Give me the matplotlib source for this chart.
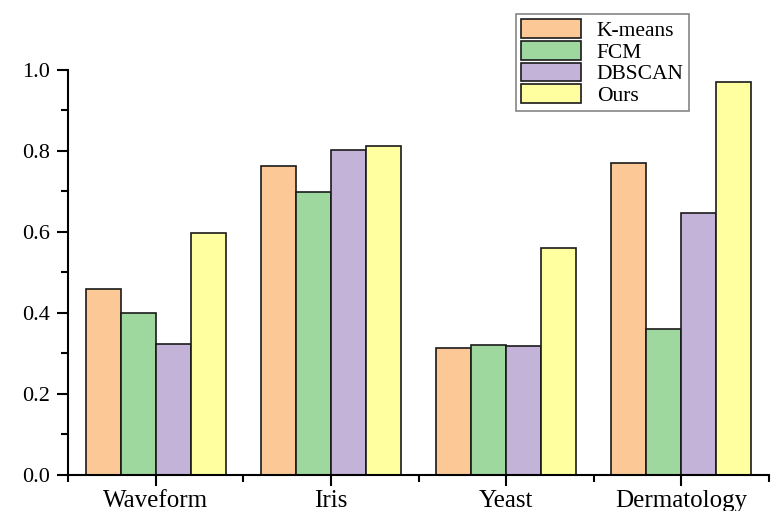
import numpy as np
import matplotlib
matplotlib.use("Agg")
import matplotlib.pyplot as plt
from matplotlib.ticker import FixedLocator

plt.rcParams['font.family'] = ['Liberation Serif', 'DejaVu Serif']

datasets = ['Waveform', 'Iris', 'Yeast', 'Dermatology']
methods = ['K-means', 'FCM', 'DBSCAN', 'Ours']
kmeans = [0.459, 0.763, 0.314, 0.770]
fcm = [0.400, 0.699, 0.321, 0.360]
dbscan = [0.323, 0.802, 0.319, 0.647]
ours = [0.598, 0.812, 0.560, 0.970]
cores = ['#FBC896', '#9ED89E', '#C3B3D8', '#FFFF9F']

fig = plt.figure(figsize=(7.71, 5.11), dpi=100)
ax = fig.add_axes([68/771, 36/511, 701/771, 466/511])

x = np.arange(len(datasets))
largura = 0.2
series = [kmeans, fcm, dbscan, ours]
for i, valores in enumerate(series):
    ax.bar(x + (i - 1.5) * largura, valores, largura, color=cores[i],
           edgecolor='#1a1a1a', linewidth=1.2, label=methods[i])

ax.set_xlim(-0.5, 3.5)
ax.set_ylim(0, 1.15)
ax.spines['top'].set_visible(False)
ax.spines['right'].set_visible(False)
ax.spines['left'].set_bounds(0, 1.0)
ax.spines['left'].set_linewidth(1.5)
ax.spines['bottom'].set_linewidth(1.5)

ax.set_yticks([0, 0.2, 0.4, 0.6, 0.8, 1.0])
ax.set_yticklabels(['0.0', '0.2', '0.4', '0.6', '0.8', '1.0'])
ax.yaxis.set_minor_locator(FixedLocator([0.1, 0.3, 0.5, 0.7, 0.9]))
ax.set_xticks(x)
ax.set_xticklabels(datasets)
ax.xaxis.set_minor_locator(FixedLocator([-0.5, 0.5, 1.5, 2.5, 3.5]))

ax.tick_params(axis='both', which='major', length=8, width=1.5)
ax.tick_params(axis='both', which='minor', length=5, width=1.5)
ax.tick_params(axis='x', which='major', labelsize=18, pad=3)
ax.tick_params(axis='y', which='major', labelsize=16, pad=5)

leg = ax.legend(loc='upper left', bbox_to_anchor=(516/771, 1 - 14/511),
                bbox_transform=fig.transFigure, fontsize=15.5, frameon=True,
                fancybox=False, handlelength=2.75, handleheight=0.95,
                handletextpad=0.75, labelspacing=0.0, borderpad=0.25,
                borderaxespad=0)
leg.get_frame().set_edgecolor('#666666')
leg.get_frame().set_linewidth(1.2)

fig.savefig('out.png', dpi=100)
